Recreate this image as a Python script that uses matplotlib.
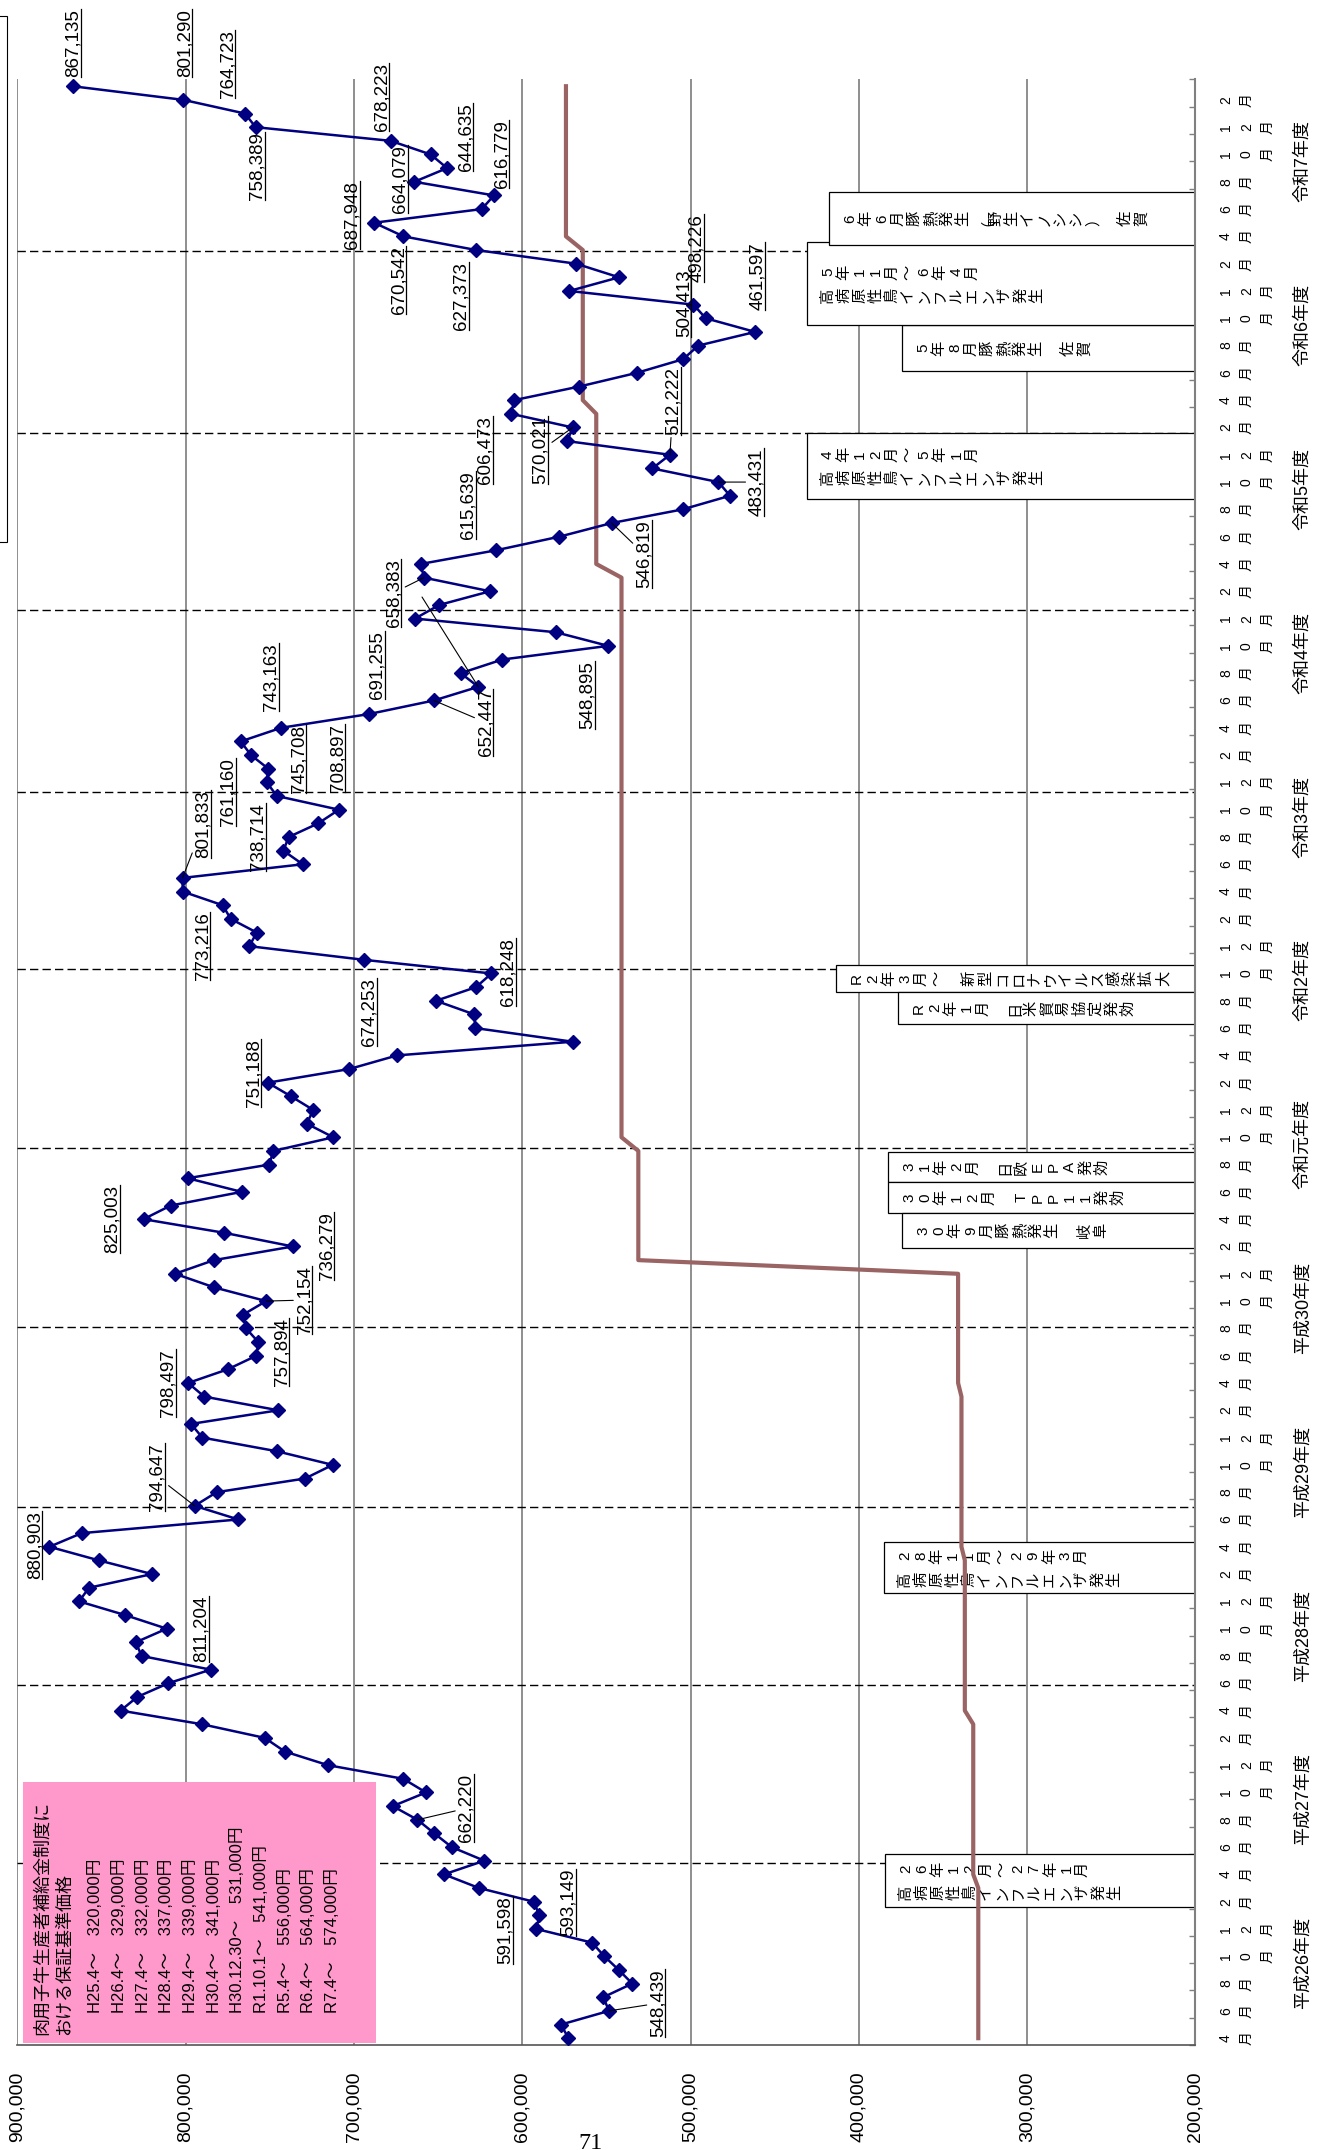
import numpy as np
import matplotlib
matplotlib.use("Agg")
import matplotlib.pyplot as plt
from matplotlib.patches import Rectangle
from matplotlib.lines import Line2D
from matplotlib.text import Text

plt.rcParams['font.family'] = ['Liberation Sans', 'Noto Sans CJK JP']

W, H = 1330, 2150

# 肉用子牛（黒毛和種）価格 円/頭  H26.4 ～ R8.3 月別
calf_price = [
    572600, 576900, 548439, 551800, 534600, 542650, 551200, 558500, 591598, 589800, 593149, 625650,
    646450, 622500, 641900, 652200, 662220, 676900, 657150, 670640, 715400, 741050, 753000, 790300,
    838600, 828700, 810300, 785100, 826100, 829650, 811204, 836000, 863300, 857400, 819960, 851450,
    880903, 861730, 768680, 794647, 781520, 729050, 712590, 745860, 790070, 796790, 744910, 788880,
    798497, 774980, 757894, 756800, 764100, 765890, 752154, 782940, 806300, 783120, 736279, 777000,
    825003, 808850, 766660, 798750, 750260, 747890, 712230, 728040, 724120, 737370, 751188, 702730,
    674253, 569980, 627860, 628450, 651210, 627440, 618248, 693990, 762150, 757750, 773216, 777950,
    801720, 801833, 730420, 741940, 738714, 721150, 708897, 745708, 751810, 750860, 761160, 767260,
    743163, 691255, 652447, 626070, 636530, 611810, 548895, 580080, 663690, 649250, 619120, 658383,
    660300, 615639, 577940, 546819, 504620, 476510, 483431, 522680, 512222, 573190, 570021, 606473,
    604860, 566060, 531950, 504413, 495350, 461597, 490950, 498226, 572000, 542470, 568020, 627373,
    670542, 687948, 624050, 616779, 664079, 644635, 654360, 678223, 758389, 764723, 801290, 867135,
]

# 保証基準価格 と その適用月数
guarantee_price = [329000, 332000, 337000, 339000, 341000, 531000, 541000, 556000, 564000, 574000]
guarantee_months = [12, 12, 12, 12, 9, 9, 42, 12, 12, 12]

value_ticks = [900000, 800000, 700000, 600000, 500000, 400000, 300000, 200000]
month_names = ['4月', '6月', '8月', '10月', '12月', '2月']
fiscal_years = ['平成26年度', '平成27年度', '平成28年度', '平成29年度', '平成30年度', '令和元年度',
                '令和2年度', '令和3年度', '令和4年度', '令和5年度', '令和6年度', '令和7年度']
fy_lines = [13.3, 26.4, 39.4, 52.6, 65.7, 78.8, 91.8, 105.1, 118.1, 131.4]

guide_title = ['肉用子牛生産者補給金制度に', 'おける保証基準価格']
guide_rows = ['H25.4～　320,000円', 'H26.4～　329,000円', 'H27.4～　332,000円',
              'H28.4～　337,000円', 'H29.4～　339,000円', 'H30.4～　341,000円',
              'H30.12.30～　531,000円', 'R1.10.1～　541,000円', 'R5.4～　556,000円',
              'R6.4～　564,000円', 'R7.4～　574,000円']

# label: index -> (dx px, dy px, leader)
label_layout = {
    2: (49, -7.6, True), 8: (-31, 1, False), 10: (34.6, 0.6, False), 16: (49, -11.5, True),
    30: (34.3, 0.3, False), 36: (-14.7, -1.8, False), 39: (-37.3, -29, True), 48: (-20, 0.3, False),
    50: (25.5, -3.4, False), 54: (38.4, -1, True), 58: (34, -0.8, False), 60: (-31, 0, False),
    70: (-14, -9.4, False), 72: (-28, -43, False), 78: (17, -1.2, False), 82: (-28, 27, False),
    85: (21, -54, True), 88: (-30.7, 0, False), 90: (-1, -52, False), 91: (21.7, -37, False),
    94: (-22.7, 37, False), 96: (-10, -51, False), 97: (8.4, -49.4, False), 98: (51.8, 22, True),
    102: (-21, 49.4, False), 107: (-30, 15, True), 109: (-27.6, -45, False), 111: (32.3, 31, True),
    114: (38.4, 0, True), 116: (3.4, -54, True), 118: (-32, 23, True), 119: (-26, 36, False),
    123: (0.7, -56, False), 125: (2, -56, False), 127: (3.5, -57, False), 131: (-14.8, 45.7, False),
    132: (-4.5, 44, False), 133: (-22, -8, False), 135: (8, -41, False), 136: (-14, -2.8, False),
    137: (18.6, -31, False), 139: (-9, -44, False), 140: (1.7, 38.5, False), 141: (-17, -49.5, False),
    142: (1.3, -57, False), 143: (1, -43, False),
}

# event boxes: left px, top px, bottom px, lines
event_boxes = [
    (885, 1854, 1907, ['26年12月～27年1月', '高病原性鳥インフルエンザ発生']),
    (884, 1542, 1593, ['28年11月～29年3月', '高病原性鳥インフルエンザ発生']),
    (888, 1152, 1182, ['31年2月　日欧EPA発効']),
    (888, 1182, 1213, ['30年12月　TPP11発効']),
    (902, 1213, 1248, ['30年9月豚熱発生　岐阜']),
    (836, 965, 992, ['R2年3月～　新型コロナウイルス感染拡大']),
    (898, 992, 1024, ['R2年1月　日米貿易協定発効']),
    (807, 433, 499, ['4年12月～5年1月', '高病原性鳥インフルエンザ発生']),
    (902, 325, 371, ['5年8月豚熱発生　佐賀']),
    (807, 242, 325, ['5年11月～6年4月', '高病原性鳥インフルエンザ発生']),
    (829, 192, 245, ['6年6月豚熱発生（野生イノシシ）　佐賀']),
]

AX_L, AX_R, AX_T, AX_B = 17.3, 1195.4, 79.4, 2045.0


def val_at(px):
    return 900000 - (px - AX_L) / (AX_R - AX_L) * 700000


def month_at(py):
    return (AX_B - py) / (AX_B - AX_T) * 144


def xfrac(px):
    return (px - AX_L) / (AX_R - AX_L)


fig = plt.figure(figsize=(W / 100, H / 100), dpi=100)
ax = fig.add_axes([AX_L / W, 1 - AX_B / H, (AX_R - AX_L) / W, (AX_B - AX_T) / H])
ax.set_xlim(900000, 200000)
ax.set_ylim(0, 144)

months = np.arange(len(calf_price)) + 0.5
guarantee = np.repeat(guarantee_price, guarantee_months)

ax.set_axisbelow(True)
ax.set_xticks(value_ticks)
ax.set_xticklabels([f"{t:,}" for t in value_ticks], rotation=90, fontsize=14)
ax.tick_params(axis='x', length=0, pad=19)
ax.grid(axis='x', color='#707070', lw=1.1)
ax.set_yticks(range(0, 145, 2))
ax.yaxis.set_ticks_position('right')
ax.tick_params(axis='y', direction='in', length=4, color='#808080', width=1,
               labelright=False, labelleft=False)
for s in ['top', 'left']:
    ax.spines[s].set_visible(False)
ax.spines['bottom'].set_color('#555555')
ax.spines['bottom'].set_linewidth(1.2)
ax.spines['right'].set_color('#808080')
ax.spines['right'].set_linewidth(1.5)

for m in fy_lines:
    ax.axhline(m, color='black', lw=1.0, ls=(0, (6, 3)), zorder=1)

# pink guide box
ax.add_patch(Rectangle((val_at(23), month_at(2043)), val_at(376) - val_at(23),
                       month_at(1782) - month_at(2043), fc='#FF99CC', ec='none', zorder=2))
for k, line in enumerate(guide_title):
    ax.text(val_at(42.4 + 22.3 * k), month_at(2035), line, rotation=90, ha='center',
            va='bottom', fontsize=13, zorder=2.5)
for k, line in enumerate(guide_rows):
    ax.text(val_at(96 + 23.66 * k), month_at(2013), line, rotation=90, ha='center',
            va='bottom', fontsize=12, zorder=2.5)

# event boxes
for left, top, bottom, lines in event_boxes:
    ax.add_patch(Rectangle((val_at(left), month_at(bottom)), val_at(AX_R) - val_at(left),
                           month_at(top) - month_at(bottom), fc='white', ec='black',
                           lw=0.9, zorder=2))
    yc = (top + bottom) / 2
    n = len(lines)
    for k, line in enumerate(lines):
        yy = yc + (k - (n - 1) / 2) * 23
        ax.text(val_at(left + 14), month_at(yy), "\n".join(line), rotation=90, ha='left',
                va='center', fontsize=11, linespacing=1.19, multialignment='center', zorder=2.5)

ax.plot(guarantee, months, color='#9B6464', lw=3, zorder=3, solid_joinstyle='round')
ax.plot(calf_price, months, color='#000080', lw=1.8, marker='D', ms=7, zorder=4)

# data labels
label_texts = []
for idx, (dx, dy, leader) in label_layout.items():
    arrow = dict(arrowstyle='-', color='black', lw=0.8, shrinkA=0, shrinkB=0) if leader else None
    t = ax.annotate(f"{calf_price[idx]:,}", xy=(calf_price[idx], months[idx]),
                    xytext=(dx * 0.72, -dy * 0.72), textcoords='offset points',
                    rotation=90, ha='center', va='center', fontsize=13.5,
                    arrowprops=arrow, zorder=5, annotation_clip=False)
    label_texts.append(t)
# extra leader from 658,383 label toward the following dip
ax.annotate('', xy=(calf_price[99], months[99]), xytext=(-56.3 * 0.72, 89.8 * 0.72),
            textcoords='offset points',
            arrowprops=dict(arrowstyle='-', color='black', lw=0.8, shrinkA=0, shrinkB=0), zorder=5)

# month and fiscal-year labels on the time axis
ytr = ax.get_yaxis_transform()
for k in range(72):
    name = month_names[k % 6]
    ax.text(xfrac(1219), 2 * k + 0.5, "\n".join(name), transform=ytr, rotation=90,
            ha='left', va='center', fontsize=10, linespacing=1.62,
            multialignment='center', clip_on=False)
for k, fy in enumerate(fiscal_years):
    ax.text(xfrac(1303), 12 * k + 6, fy, transform=ytr, rotation=90, ha='center',
            va='center', fontsize=13, clip_on=False)

# partial frame at top-left and page number
fig.add_artist(Rectangle((-0.05, 1 - 541.6 / H), 0.05 + 6.9 / W, (541.6 - 16) / H,
                         transform=fig.transFigure, fill=False, ec='black', lw=0.8))
fig.text(590 / W, 1 / H, '71', family='Liberation Serif', fontsize=17.3, ha='center',
         va='baseline')

# underline the data labels
fig.canvas.draw()
renderer = fig.canvas.get_renderer()
for t in label_texts:
    bb = Text.get_window_extent(t, renderer)
    x = bb.x1 - 1
    fig.add_artist(Line2D([x / W, x / W], [bb.y0 / H, bb.y1 / H], transform=fig.transFigure,
                          color='black', lw=0.9))

fig.savefig('out.png', dpi=100)
